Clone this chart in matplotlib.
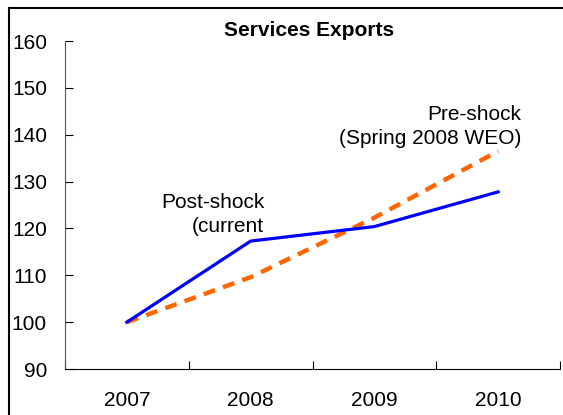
import numpy as np
import matplotlib.pyplot as plt
from matplotlib.lines import Line2D

plt.rcParams['font.family'] = ['Liberation Sans', 'DejaVu Sans']

years = ["2007", "2008", "2009", "2010"]
post_shock = [100, 117.3, 120.4, 127.8]
pre_shock = [100, 109.6, 122.3, 136.5]

fig = plt.figure(figsize=(5.63, 4.15), dpi=100)
ax = fig.add_axes([0.1155, 0.1108, 0.8792, 0.7904])

x = np.arange(len(years))
ax.plot(x, pre_shock, color="#FF6600", lw=3.2, dashes=(2.7, 1.9), solid_capstyle="butt")
ax.plot(x, post_shock, color="#0000FF", lw=2.3)

ax.set_xlim(-0.5, len(years) - 0.5)
ax.set_ylim(90, 160)
ax.set_yticks(np.arange(90, 161, 10))
ax.set_xticks(np.arange(-0.5, len(years), 1))
ax.set_xticklabels([])
ax.set_xticks(x, minor=True)
ax.set_xticklabels(years, minor=True)
ax.tick_params(axis="x", which="major", direction="in", length=6, width=0.8)
ax.tick_params(axis="x", which="minor", length=0, pad=15.5, labelsize=15)
ax.tick_params(axis="y", direction="in", length=6, width=0.8, pad=13, labelsize=15)
for s in ["top", "right"]:
    ax.spines[s].set_visible(False)
ax.spines["left"].set_color("#555555")

fig.text(309 / 563, 1 - 30 / 415, "Services Exports", fontsize=15, fontweight="bold",
         ha="center", va="center")

ax.text(1.11, 123.0, "Post-shock\n(current", ha="right", va="center",
        fontsize=15, linespacing=1.35)
ax.text(3.19, 141.8, "Pre-shock\n(Spring 2008 WEO)", ha="right", va="center",
        fontsize=15, linespacing=1.35)

# frame around the figure (left and top only, the picture is cropped)
fig.add_artist(Line2D([9 / 563, 9 / 563], [0, 1 - 8 / 415], color="black", lw=1.5,
                      transform=fig.transFigure))
fig.add_artist(Line2D([9 / 563, 1], [1 - 8 / 415, 1 - 8 / 415], color="black", lw=1.5,
                      transform=fig.transFigure))

fig.savefig("out.png", dpi=100)
